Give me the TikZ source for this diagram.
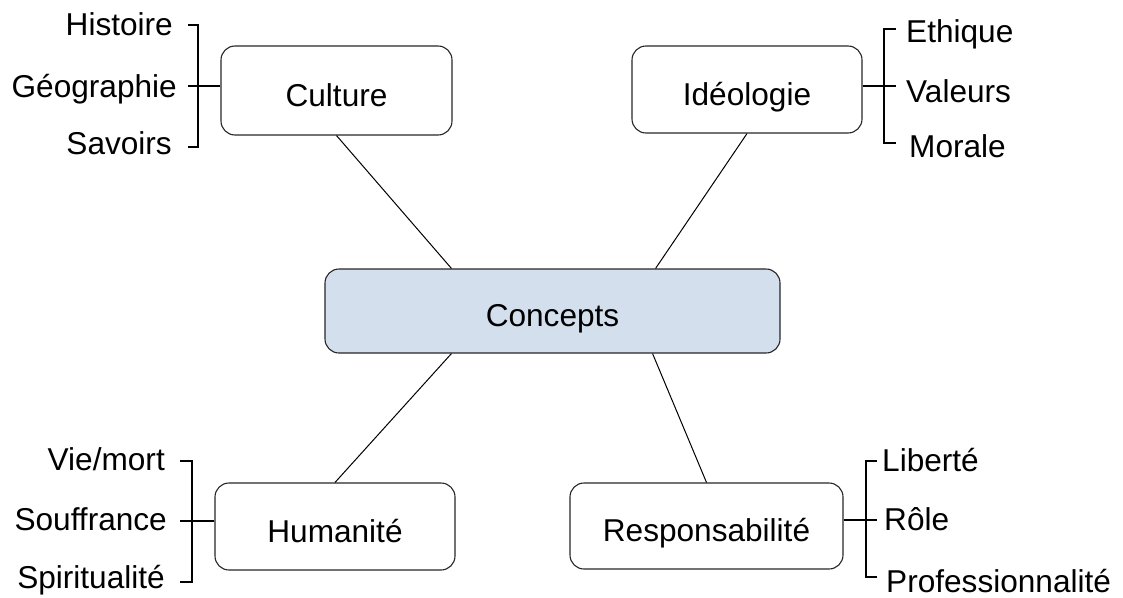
\documentclass[tikz,border=0pt]{standalone}
\usepackage{fontspec}
\setmainfont{Liberation Sans}
\definecolor{conceptfill}{RGB}{212,223,238}
\begin{document}
\begin{tikzpicture}[x=1pt,y=-1pt,
  txt/.style={font=\fontsize{31.6}{36}\selectfont},
  box/.style={txt, draw=black!85, line width=1.1pt, rounded corners=14pt, inner sep=0pt, text height=31pt, text depth=0pt},
  lbl/.style={txt, inner sep=0pt},
  brk/.style={line width=2pt, black},
  con/.style={line width=1pt, black}]
\useasboundingbox (0,0) rectangle (1123,597);

% boxes
\node[box, minimum width=231pt, minimum height=89pt] (culture) at (336.5,90.5) {Culture};
\node[box, minimum width=230pt, minimum height=87pt] (ideologie) at (747,89.5) {Idéologie};
\node[box, fill=conceptfill, minimum width=455pt, minimum height=84pt] (concepts) at (552.5,311) {Concepts};
\node[box, minimum width=240pt, minimum height=87pt] (humanite) at (335,526.5) {Humanité};
\node[box, minimum width=273pt, minimum height=86pt] (respons) at (706.5,526) {Responsabilité};

% connectors
\draw[con] (culture.south) -- ([xshift=127pt]concepts.north west);
\draw[con] (ideologie.south) -- ([xshift=-125pt]concepts.north east);
\draw[con] (humanite.north) -- ([xshift=127pt]concepts.south west);
\draw[con] (respons.north) -- ([xshift=-128pt]concepts.south east);

% labels
\node[lbl, anchor=base east] (histoire) at (173,35) {Histoire};
\node[lbl, anchor=base east] (geographie) at (177,97) {Géographie};
\node[lbl, anchor=base east] (savoirs) at (172,154) {Savoirs};

\node[lbl, anchor=base west] (ethique) at (906,42) {Ethique};
\node[lbl, anchor=base west] (valeurs) at (906,102) {Valeurs};
\node[lbl, anchor=base west] (morale) at (909,157) {Morale};

\node[lbl, anchor=base east] (viemort) at (165,470) {Vie/mort};
\node[lbl, anchor=base east] (souffrance) at (167,530) {Souffrance};
\node[lbl, anchor=base east] (spiritualite) at (165,588) {Spiritualité};

\node[lbl, anchor=base west] (liberte) at (882,471) {Liberté};
\node[lbl, anchor=base west] (role) at (884,530) {Rôle};
\node[lbl, anchor=base west] (prof) at (886,592) {Professionnalité};

% brackets
\draw[brk] (188,25) -- (198,25) -- (198,147) -- (188,147);
\draw[brk] (188,86) -- (culture.west |- 0,86);

\draw[brk] (896,29) -- (884,29) -- (884,143) -- (896,143);
\draw[brk] (ideologie.east |- 0,86) -- (896,86);

\draw[brk] (180,461) -- (192,461) -- (192,582) -- (180,582);
\draw[brk] (180,521) -- (humanite.west |- 0,521);

\draw[brk] (877,461) -- (866,461) -- (866,577) -- (877,577);
\draw[brk] (respons.east |- 0,520) -- (877,520);
\end{tikzpicture}
\end{document}
